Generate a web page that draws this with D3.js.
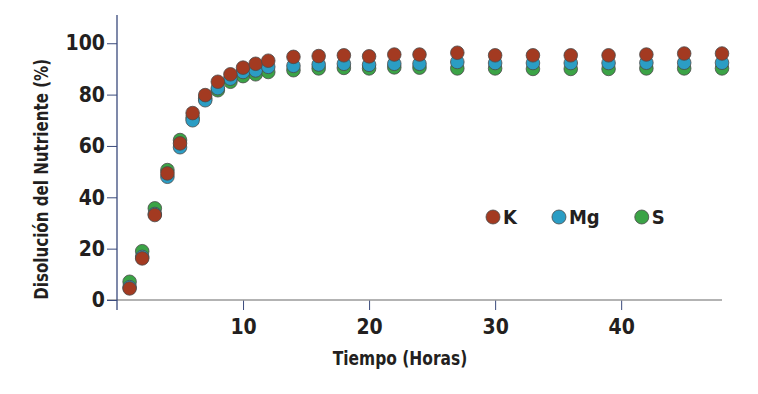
<!DOCTYPE html>
<html>
<head>
<meta charset="utf-8">
<script src="https://cdn.jsdelivr.net/npm/d3@7"></script>
<style>
  body { margin: 0; background: #fff; }
  text { font-family: 'Liberation Sans Narrow', 'DejaVu Sans Condensed', sans-serif; font-weight: bold; fill: #231f20; }
</style>
</head>
<body>
<svg id="chart" width="758" height="394"></svg>
<script>
// Data
const hours = [1, 2, 3, 4, 5, 6, 7, 8, 9, 10, 11, 12, 14, 16, 18, 20, 22, 24, 27, 30, 33, 36, 39, 42, 45, 48];
const potassium = [4.5, 16.2, 33.1, 49.3, 61, 72.8, 79.8, 85, 87.9, 90.5, 92, 93.2, 94.7, 95, 95.3, 94.9, 95.6, 95.6, 96.3, 95.3, 95.3, 95.3, 95.3, 95.6, 96, 96];
const magnesium = [5, 16.8, 33.5, 48, 59.5, 70, 77.8, 82.5, 86.2, 88.8, 89.4, 90.8, 91.2, 91.7, 92, 91.6, 92, 92, 92.7, 92.3, 92.3, 92.3, 92.3, 92.4, 92.4, 92.4];
const sulfur = [7.1, 19, 35.7, 50.6, 62.3, 71, 78.5, 81.7, 85, 87.2, 87.9, 88.8, 89.5, 90.2, 90.4, 90.2, 90.6, 90.5, 90.2, 90.2, 90, 90, 90, 90.2, 90.2, 90.2];
const xTicks = [10, 20, 30, 40];
const yTicks = [0, 20, 40, 60, 80, 100];

const series = [
  { name: 'K', values: potassium, color: '#a33a21' },
  { name: 'Mg', values: magnesium, color: '#2b9dc4' },
  { name: 'S', values: sulfur, color: '#3ba346' }
];

const svg = d3.select('#chart');

const xScale = d3.scaleLinear().domain([0, 48]).range([117, 722]);
const yScale = d3.scaleLinear().domain([0, 111]).range([300, 15]);

// x axis
const xAxis = svg.append('g')
  .attr('transform', `translate(0,${yScale(0)})`)
  .call(d3.axisBottom(xScale).tickValues(xTicks).tickSize(10).tickPadding(9).tickSizeOuter(0));
xAxis.select('.domain').remove();
xAxis.selectAll('.tick line').attr('stroke', '#3a4a7c');
xAxis.selectAll('text').attr('font-size', 21).attr('font-family', null).attr('fill', '#231f20');
xAxis.append('line')
  .attr('x1', xScale(0) - 10).attr('x2', xScale(48))
  .attr('stroke', '#9a9a9a').attr('stroke-width', 1.5);

// y axis
const yAxis = svg.append('g')
  .attr('transform', `translate(${xScale(0)},0)`)
  .call(d3.axisLeft(yScale).tickValues(yTicks).tickSize(10).tickPadding(2).tickSizeOuter(0));
yAxis.select('.domain').remove();
yAxis.selectAll('.tick line').attr('stroke', '#3a4a7c');
yAxis.selectAll('text').attr('font-size', 21).attr('font-family', null).attr('fill', '#231f20');
yAxis.append('line')
  .attr('y1', yScale(111)).attr('y2', yScale(0) + 10)
  .attr('stroke', '#3a4a7c').attr('stroke-width', 1.3);

// points, S first so K ends up on top
series.slice().reverse().forEach(s => {
  svg.append('g')
    .selectAll('circle')
    .data(s.values.map((v, i) => ({ t: hours[i], v: v })))
    .join('circle')
    .attr('cx', d => xScale(d.t))
    .attr('cy', d => yScale(d.v))
    .attr('r', 6.8)
    .attr('fill', s.color)
    .attr('stroke', '#4a4a4a')
    .attr('stroke-width', 0.8);
});

// legend
const legend = svg.append('g').attr('transform', 'translate(493,217)');
let lx = 0;
series.forEach(s => {
  const item = legend.append('g').attr('transform', `translate(${lx},0)`);
  item.append('circle')
    .attr('r', 7)
    .attr('fill', s.color)
    .attr('stroke', '#4a4a4a')
    .attr('stroke-width', 0.8);
  const label = item.append('text')
    .attr('x', 10)
    .attr('dy', '0.35em')
    .attr('font-size', 20)
    .text(s.name);
  lx += 10 + label.node().getComputedTextLength() + 42;
});

// axis titles (squeezed a bit to look like a condensed face)
svg.append('text')
  .attr('transform', `translate(48,${yScale(47)}) rotate(-90) scale(0.84,1)`)
  .attr('text-anchor', 'middle')
  .attr('font-size', 20)
  .text('Disolución del Nutriente (%)');

svg.append('text')
  .attr('transform', 'translate(400,365) scale(0.86,1)')
  .attr('text-anchor', 'middle')
  .attr('font-size', 20)
  .text('Tiempo (Horas)');
</script>
</body>
</html>
